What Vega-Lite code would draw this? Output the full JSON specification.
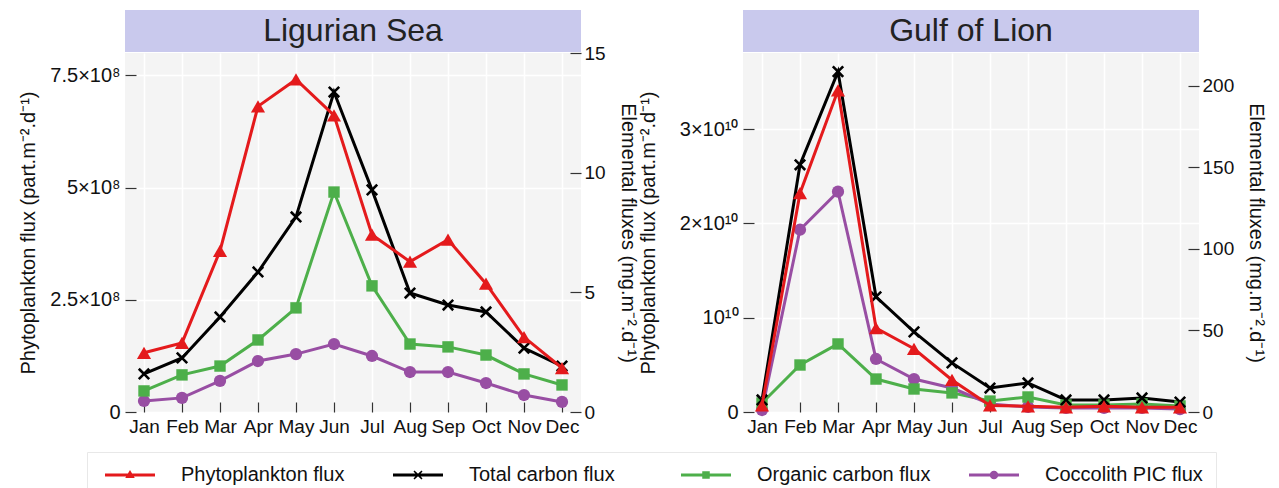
{
  "$schema": "https://vega.github.io/schema/vega-lite/v6.json",
  "padding": {"left": 18, "top": 10, "right": 8, "bottom": 0},
  "config": {
    "font": "Liberation Sans",
    "view": {"stroke": null},
    "axis": {
      "labelFontSize": 19, "titleFontSize": 20, "titleFontWeight": "normal",
      "labelColor": "#111", "titleColor": "#111", "domain": false,
      "tickColor": "#333", "tickWidth": 1.2, "gridColor": "#ffffff", "gridWidth": 1.5
    },
    "legend": {
      "labelFontSize": 20, "labelColor": "#111", "labelLimit": 400,
      "symbolSize": 100, "symbolOpacity": 1, "symbolStrokeWidth": 0,
      "labelOffset": 61, "columnPadding": 33, "gridAlign": "all",
      "strokeColor": "#e8e8e8", "padding": 13
    }
  },
  "datasets": {
    "flux": [
      {"r": "Ligurian Sea", "m": "Jan", "s": "Phytoplankton flux", "v": 132000000},
      {"r": "Ligurian Sea", "m": "Feb", "s": "Phytoplankton flux", "v": 154000000},
      {"r": "Ligurian Sea", "m": "Mar", "s": "Phytoplankton flux", "v": 359000000},
      {"r": "Ligurian Sea", "m": "Apr", "s": "Phytoplankton flux", "v": 681000000},
      {"r": "Ligurian Sea", "m": "May", "s": "Phytoplankton flux", "v": 741000000},
      {"r": "Ligurian Sea", "m": "Jun", "s": "Phytoplankton flux", "v": 661000000},
      {"r": "Ligurian Sea", "m": "Jul", "s": "Phytoplankton flux", "v": 395000000},
      {"r": "Ligurian Sea", "m": "Aug", "s": "Phytoplankton flux", "v": 335000000},
      {"r": "Ligurian Sea", "m": "Sep", "s": "Phytoplankton flux", "v": 384000000},
      {"r": "Ligurian Sea", "m": "Oct", "s": "Phytoplankton flux", "v": 286000000},
      {"r": "Ligurian Sea", "m": "Nov", "s": "Phytoplankton flux", "v": 167000000},
      {"r": "Ligurian Sea", "m": "Dec", "s": "Phytoplankton flux", "v": 98000000},
      {"r": "Ligurian Sea", "m": "Jan", "s": "Total carbon flux", "v": 1.59},
      {"r": "Ligurian Sea", "m": "Feb", "s": "Total carbon flux", "v": 2.26},
      {"r": "Ligurian Sea", "m": "Mar", "s": "Total carbon flux", "v": 3.97},
      {"r": "Ligurian Sea", "m": "Apr", "s": "Total carbon flux", "v": 5.85},
      {"r": "Ligurian Sea", "m": "May", "s": "Total carbon flux", "v": 8.15},
      {"r": "Ligurian Sea", "m": "Jun", "s": "Total carbon flux", "v": 13.37},
      {"r": "Ligurian Sea", "m": "Jul", "s": "Total carbon flux", "v": 9.28},
      {"r": "Ligurian Sea", "m": "Aug", "s": "Total carbon flux", "v": 4.97},
      {"r": "Ligurian Sea", "m": "Sep", "s": "Total carbon flux", "v": 4.47},
      {"r": "Ligurian Sea", "m": "Oct", "s": "Total carbon flux", "v": 4.18},
      {"r": "Ligurian Sea", "m": "Nov", "s": "Total carbon flux", "v": 2.67},
      {"r": "Ligurian Sea", "m": "Dec", "s": "Total carbon flux", "v": 1.92},
      {"r": "Ligurian Sea", "m": "Jan", "s": "Organic carbon flux", "v": 0.88},
      {"r": "Ligurian Sea", "m": "Feb", "s": "Organic carbon flux", "v": 1.55},
      {"r": "Ligurian Sea", "m": "Mar", "s": "Organic carbon flux", "v": 1.92},
      {"r": "Ligurian Sea", "m": "Apr", "s": "Organic carbon flux", "v": 3.01},
      {"r": "Ligurian Sea", "m": "May", "s": "Organic carbon flux", "v": 4.35},
      {"r": "Ligurian Sea", "m": "Jun", "s": "Organic carbon flux", "v": 9.19},
      {"r": "Ligurian Sea", "m": "Jul", "s": "Organic carbon flux", "v": 5.27},
      {"r": "Ligurian Sea", "m": "Aug", "s": "Organic carbon flux", "v": 2.84},
      {"r": "Ligurian Sea", "m": "Sep", "s": "Organic carbon flux", "v": 2.72},
      {"r": "Ligurian Sea", "m": "Oct", "s": "Organic carbon flux", "v": 2.38},
      {"r": "Ligurian Sea", "m": "Nov", "s": "Organic carbon flux", "v": 1.59},
      {"r": "Ligurian Sea", "m": "Dec", "s": "Organic carbon flux", "v": 1.13},
      {"r": "Ligurian Sea", "m": "Jan", "s": "Coccolith PIC flux", "v": 0.46},
      {"r": "Ligurian Sea", "m": "Feb", "s": "Coccolith PIC flux", "v": 0.59},
      {"r": "Ligurian Sea", "m": "Mar", "s": "Coccolith PIC flux", "v": 1.30},
      {"r": "Ligurian Sea", "m": "Apr", "s": "Coccolith PIC flux", "v": 2.13},
      {"r": "Ligurian Sea", "m": "May", "s": "Coccolith PIC flux", "v": 2.42},
      {"r": "Ligurian Sea", "m": "Jun", "s": "Coccolith PIC flux", "v": 2.84},
      {"r": "Ligurian Sea", "m": "Jul", "s": "Coccolith PIC flux", "v": 2.34},
      {"r": "Ligurian Sea", "m": "Aug", "s": "Coccolith PIC flux", "v": 1.67},
      {"r": "Ligurian Sea", "m": "Sep", "s": "Coccolith PIC flux", "v": 1.67},
      {"r": "Ligurian Sea", "m": "Oct", "s": "Coccolith PIC flux", "v": 1.21},
      {"r": "Ligurian Sea", "m": "Nov", "s": "Coccolith PIC flux", "v": 0.71},
      {"r": "Ligurian Sea", "m": "Dec", "s": "Coccolith PIC flux", "v": 0.42},
      {"r": "Gulf of Lion", "m": "Jan", "s": "Phytoplankton flux", "v": 700000000},
      {"r": "Gulf of Lion", "m": "Feb", "s": "Phytoplankton flux", "v": 23200000000},
      {"r": "Gulf of Lion", "m": "Mar", "s": "Phytoplankton flux", "v": 34100000000},
      {"r": "Gulf of Lion", "m": "Apr", "s": "Phytoplankton flux", "v": 8900000000},
      {"r": "Gulf of Lion", "m": "May", "s": "Phytoplankton flux", "v": 6700000000},
      {"r": "Gulf of Lion", "m": "Jun", "s": "Phytoplankton flux", "v": 3400000000},
      {"r": "Gulf of Lion", "m": "Jul", "s": "Phytoplankton flux", "v": 700000000},
      {"r": "Gulf of Lion", "m": "Aug", "s": "Phytoplankton flux", "v": 600000000},
      {"r": "Gulf of Lion", "m": "Sep", "s": "Phytoplankton flux", "v": 500000000},
      {"r": "Gulf of Lion", "m": "Oct", "s": "Phytoplankton flux", "v": 600000000},
      {"r": "Gulf of Lion", "m": "Nov", "s": "Phytoplankton flux", "v": 500000000},
      {"r": "Gulf of Lion", "m": "Dec", "s": "Phytoplankton flux", "v": 500000000},
      {"r": "Gulf of Lion", "m": "Jan", "s": "Total carbon flux", "v": 7.4},
      {"r": "Gulf of Lion", "m": "Feb", "s": "Total carbon flux", "v": 151.5},
      {"r": "Gulf of Lion", "m": "Mar", "s": "Total carbon flux", "v": 208.6},
      {"r": "Gulf of Lion", "m": "Apr", "s": "Total carbon flux", "v": 70.6},
      {"r": "Gulf of Lion", "m": "May", "s": "Total carbon flux", "v": 49.1},
      {"r": "Gulf of Lion", "m": "Jun", "s": "Total carbon flux", "v": 30.1},
      {"r": "Gulf of Lion", "m": "Jul", "s": "Total carbon flux", "v": 14.7},
      {"r": "Gulf of Lion", "m": "Aug", "s": "Total carbon flux", "v": 17.8},
      {"r": "Gulf of Lion", "m": "Sep", "s": "Total carbon flux", "v": 7.4},
      {"r": "Gulf of Lion", "m": "Oct", "s": "Total carbon flux", "v": 7.4},
      {"r": "Gulf of Lion", "m": "Nov", "s": "Total carbon flux", "v": 8.6},
      {"r": "Gulf of Lion", "m": "Dec", "s": "Total carbon flux", "v": 6.1},
      {"r": "Gulf of Lion", "m": "Jan", "s": "Organic carbon flux", "v": 5.5},
      {"r": "Gulf of Lion", "m": "Feb", "s": "Organic carbon flux", "v": 28.8},
      {"r": "Gulf of Lion", "m": "Mar", "s": "Organic carbon flux", "v": 41.7},
      {"r": "Gulf of Lion", "m": "Apr", "s": "Organic carbon flux", "v": 20.2},
      {"r": "Gulf of Lion", "m": "May", "s": "Organic carbon flux", "v": 14.1},
      {"r": "Gulf of Lion", "m": "Jun", "s": "Organic carbon flux", "v": 11.7},
      {"r": "Gulf of Lion", "m": "Jul", "s": "Organic carbon flux", "v": 6.7},
      {"r": "Gulf of Lion", "m": "Aug", "s": "Organic carbon flux", "v": 9.2},
      {"r": "Gulf of Lion", "m": "Sep", "s": "Organic carbon flux", "v": 4.3},
      {"r": "Gulf of Lion", "m": "Oct", "s": "Organic carbon flux", "v": 4.3},
      {"r": "Gulf of Lion", "m": "Nov", "s": "Organic carbon flux", "v": 4.9},
      {"r": "Gulf of Lion", "m": "Dec", "s": "Organic carbon flux", "v": 3.7},
      {"r": "Gulf of Lion", "m": "Jan", "s": "Coccolith PIC flux", "v": 1.2},
      {"r": "Gulf of Lion", "m": "Feb", "s": "Coccolith PIC flux", "v": 111.7},
      {"r": "Gulf of Lion", "m": "Mar", "s": "Coccolith PIC flux", "v": 135.0},
      {"r": "Gulf of Lion", "m": "Apr", "s": "Coccolith PIC flux", "v": 32.5},
      {"r": "Gulf of Lion", "m": "May", "s": "Coccolith PIC flux", "v": 20.2},
      {"r": "Gulf of Lion", "m": "Jun", "s": "Coccolith PIC flux", "v": 14.7},
      {"r": "Gulf of Lion", "m": "Jul", "s": "Coccolith PIC flux", "v": 4.9},
      {"r": "Gulf of Lion", "m": "Aug", "s": "Coccolith PIC flux", "v": 3.1},
      {"r": "Gulf of Lion", "m": "Sep", "s": "Coccolith PIC flux", "v": 2.5},
      {"r": "Gulf of Lion", "m": "Oct", "s": "Coccolith PIC flux", "v": 2.5},
      {"r": "Gulf of Lion", "m": "Nov", "s": "Coccolith PIC flux", "v": 2.5},
      {"r": "Gulf of Lion", "m": "Dec", "s": "Coccolith PIC flux", "v": 1.8}
    ],
    "headers": [{"r": "Ligurian Sea"}, {"r": "Gulf of Lion"}]
  },
  "spacing": 0,
  "hconcat": [
    {
      "spacing": 1,
      "bounds": "flush",
      "vconcat": [
        {
          "width": 456, "height": 42,
          "data": {"name": "headers"},
          "transform": [{"filter": "datum.r === 'Ligurian Sea'"}],
          "view": {"fill": "#c9c9ed", "stroke": null},
          "mark": {"type": "text", "fontSize": 32, "color": "#222222", "baseline": "middle", "align": "center"},
          "encoding": {"text": {"field": "r", "type": "nominal"}}
        },
        {
          "width": 456, "height": 359,
          "data": {"name": "flux"},
          "view": {"fill": "#f4f4f4", "stroke": null},
          "transform": [{"filter": "datum.r === 'Ligurian Sea'"}],
          "encoding": {
            "x": {"field": "m", "type": "ordinal",
                  "sort": ["Jan","Feb","Mar","Apr","May","Jun","Jul","Aug","Sep","Oct","Nov","Dec"],
                  "scale": {"type": "point", "padding": 0.5},
                  "axis": {"title": null, "labelAngle": 0, "grid": true, "tickSize": -10, "labelPadding": 15}},
            "color": {"field": "s", "type": "nominal",
                      "scale": {"domain": ["Phytoplankton flux","Total carbon flux","Organic carbon flux","Coccolith PIC flux"],
                                "range": ["#e41a1c","#000000","#4daf4a","#984ea3"]}}
          },
          "layer": [
            {
              "transform": [{"filter": "datum.s !== 'Phytoplankton flux'"}],
              "encoding": {"y": {"field": "v", "type": "quantitative",
                                  "scale": {"domain": [0, 15], "nice": false, "zero": true},
                                  "axis": {"orient": "right", "values": [0, 5, 10, 15], "grid": false, "tickSize": -11, "labelPadding": 14,
                                           "title": "Elemental fluxes (mg.m⁻².d⁻¹)", "titlePadding": 12}}},
              "layer": [
                {"mark": {"type": "line", "strokeWidth": 3}, "encoding": {}},
                {"transform": [{"filter": "datum.s === 'Coccolith PIC flux'"}],
                 "mark": {"type": "point", "filled": true, "opacity": 1, "shape": "circle", "size": 150}, "encoding": {}},
                {"transform": [{"filter": "datum.s === 'Organic carbon flux'"}],
                 "mark": {"type": "point", "filled": true, "opacity": 1, "shape": "square", "size": 130}, "encoding": {}},
                {"transform": [{"filter": "datum.s === 'Total carbon flux'"}],
                 "mark": {"type": "point", "filled": true, "opacity": 1, "size": 150,
                          "shape": "M-1,-0.7L-0.7,-1L0,-0.3L0.7,-1L1,-0.7L0.3,0L1,0.7L0.7,1L0,0.3L-0.7,1L-1,0.7L-0.3,0Z"}, "encoding": {}}
              ]
            },
            {
              "transform": [{"filter": "datum.s === 'Phytoplankton flux'"}],
              "encoding": {"y": {"field": "v", "type": "quantitative",
                                  "scale": {"domain": [0, 800000000], "nice": false, "zero": true},
                                  "axis": {"orient": "left", "values": [0, 250000000, 500000000, 750000000], "grid": true, "tickSize": -11, "labelPadding": 16,
                                           "labelFontSize": 20,
                                           "labelExpr": "datum.value === 0 ? '0' : format(datum.value / 1e8, '') + '×10⁸'",
                                           "title": "Phytoplankton flux (part.m⁻².d⁻¹)", "titlePadding": 11}}},
              "layer": [
                {"mark": {"type": "line", "strokeWidth": 3}, "encoding": {}},
                {"mark": {"type": "point", "filled": true, "size": 200, "opacity": 1, "shape": "triangle-up"}, "encoding": {}}
              ]
            },
            {
              "transform": [{"filter": "false"}],
              "mark": {"type": "point", "filled": true, "opacity": 1},
              "encoding": {
                "color": {"field": "s", "type": "nominal",
                          "scale": {"domain": ["Phytoplankton flux","Total carbon flux","Organic carbon flux","Coccolith PIC flux"],
                                    "range": ["#e41a1c","#000000","#4daf4a","#984ea3"]},
                          "legend": {"title": null, "orient": "none", "direction": "horizontal", "legendX": -38, "legendY": 442}},
                "shape": {"field": "s", "type": "nominal",
                          "scale": {"domain": ["Phytoplankton flux","Total carbon flux","Organic carbon flux","Coccolith PIC flux"],
                                    "range": [
                                      "M-1,-0.3L9,-0.3L9,0.3L-1,0.3ZM3.05,0.6L4,-1L4.95,0.6Z",
                                      "M-1,-0.3L9,-0.3L9,0.3L-1,0.3ZM3.3,-0.9L4,-0.25L4.7,-0.9L4.9,-0.7L4.25,0L4.9,0.7L4.7,0.9L4,0.25L3.3,0.9L3.1,0.7L3.75,0L3.1,-0.7Z",
                                      "M-1,-0.3L9,-0.3L9,0.3L-1,0.3ZM3.25,-0.75L4.75,-0.75L4.75,0.75L3.25,0.75Z",
                                      "M-1,-0.3L9,-0.3L9,0.3L-1,0.3ZM3.15,0A0.85,0.85,0,1,1,4.85,0A0.85,0.85,0,1,1,3.15,0Z"
                                    ]},
                          "legend": {"title": null, "orient": "none", "direction": "horizontal", "legendX": -38, "legendY": 442}}
              }
            }
          ],
          "resolve": {"scale": {"y": "independent"}}
        }
      ]
    },
    {
      "spacing": 1,
      "bounds": "flush",
      "vconcat": [
        {
          "width": 456, "height": 42,
          "data": {"name": "headers"},
          "transform": [{"filter": "datum.r === 'Gulf of Lion'"}],
          "view": {"fill": "#c9c9ed", "stroke": null},
          "mark": {"type": "text", "fontSize": 32, "color": "#222222", "baseline": "middle", "align": "center"},
          "encoding": {"text": {"field": "r", "type": "nominal"}}
        },
        {
          "width": 456, "height": 359,
          "data": {"name": "flux"},
          "view": {"fill": "#f4f4f4", "stroke": null},
          "transform": [{"filter": "datum.r === 'Gulf of Lion'"}],
          "encoding": {
            "x": {"field": "m", "type": "ordinal",
                  "sort": ["Jan","Feb","Mar","Apr","May","Jun","Jul","Aug","Sep","Oct","Nov","Dec"],
                  "scale": {"type": "point", "padding": 0.5},
                  "axis": {"title": null, "labelAngle": 0, "grid": true, "tickSize": -10, "labelPadding": 15}},
            "color": {"field": "s", "type": "nominal",
                      "scale": {"domain": ["Phytoplankton flux","Total carbon flux","Organic carbon flux","Coccolith PIC flux"],
                                "range": ["#e41a1c","#000000","#4daf4a","#984ea3"]}}
          },
          "layer": [
            {
              "transform": [{"filter": "datum.s !== 'Phytoplankton flux'"}],
              "encoding": {"y": {"field": "v", "type": "quantitative",
                                  "scale": {"domain": [0, 220], "nice": false, "zero": true},
                                  "axis": {"orient": "right", "values": [0, 50, 100, 150, 200], "grid": false, "tickSize": -11, "labelPadding": 14,
                                           "title": "Elemental fluxes (mg.m⁻².d⁻¹)", "titlePadding": 12}}},
              "layer": [
                {"mark": {"type": "line", "strokeWidth": 3}, "encoding": {}},
                {"transform": [{"filter": "datum.s === 'Coccolith PIC flux'"}],
                 "mark": {"type": "point", "filled": true, "opacity": 1, "shape": "circle", "size": 150}, "encoding": {}},
                {"transform": [{"filter": "datum.s === 'Organic carbon flux'"}],
                 "mark": {"type": "point", "filled": true, "opacity": 1, "shape": "square", "size": 130}, "encoding": {}},
                {"transform": [{"filter": "datum.s === 'Total carbon flux'"}],
                 "mark": {"type": "point", "filled": true, "opacity": 1, "size": 150,
                          "shape": "M-1,-0.7L-0.7,-1L0,-0.3L0.7,-1L1,-0.7L0.3,0L1,0.7L0.7,1L0,0.3L-0.7,1L-1,0.7L-0.3,0Z"}, "encoding": {}}
              ]
            },
            {
              "transform": [{"filter": "datum.s === 'Phytoplankton flux'"}],
              "encoding": {"y": {"field": "v", "type": "quantitative",
                                  "scale": {"domain": [0, 38060000000], "nice": false, "zero": true},
                                  "axis": {"orient": "left", "values": [0, 10000000000, 20000000000, 30000000000], "grid": true, "tickSize": -11, "labelPadding": 16,
                                           "labelFontSize": 20,
                                           "labelExpr": "datum.value === 0 ? '0' : datum.value === 1e10 ? '10¹⁰' : format(datum.value / 1e10, '') + '×10¹⁰'",
                                           "title": "Phytoplankton flux (part.m⁻².d⁻¹)", "titlePadding": 21}}},
              "layer": [
                {"mark": {"type": "line", "strokeWidth": 3}, "encoding": {}},
                {"mark": {"type": "point", "filled": true, "size": 200, "opacity": 1, "shape": "triangle-up"}, "encoding": {}}
              ]
            }
          ],
          "resolve": {"scale": {"y": "independent"}}
        }
      ]
    }
  ]
}
